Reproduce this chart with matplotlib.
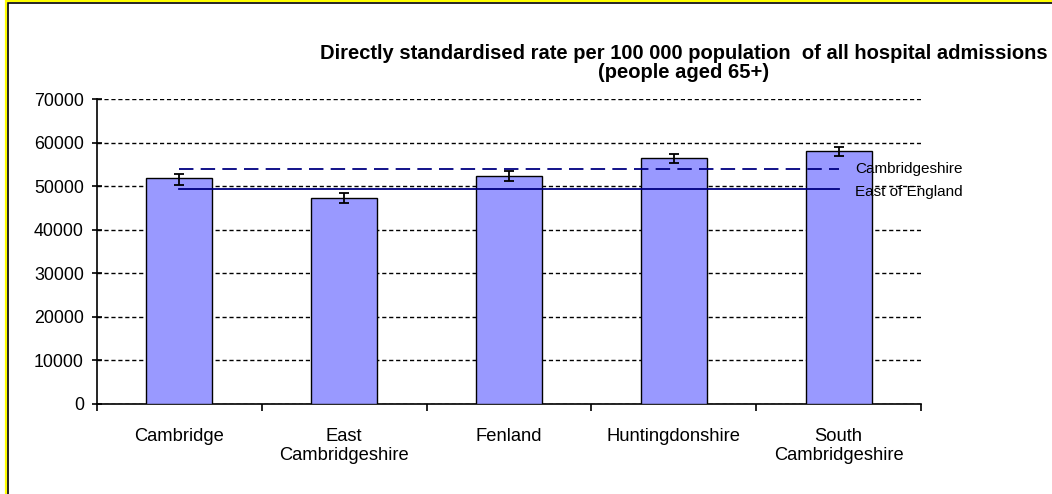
import matplotlib
matplotlib.use("Agg")
import matplotlib.pyplot as plt
from matplotlib.patches import Rectangle
import numpy as np

categories = ["Cambridge", "East\nCambridgeshire", "Fenland", "Huntingdonshire", "South\nCambridgeshire"]
rates = [51950, 47280, 52330, 56530, 58070]
ci_lower = [50300, 46100, 51100, 55240, 56920]
ci_upper = [52680, 48530, 53560, 57310, 58920]
cambs_rate = 53870
eoe_rate = 49280
yticks = [0, 10000, 20000, 30000, 40000, 50000, 60000, 70000]
title = "Directly standardised rate per 100 000 population  of all hospital admissions\n(people aged 65+)"

plt.rcParams['font.family'] = ['Liberation Sans', 'DejaVu Sans']

W, H = 1052, 494
fig = plt.figure(figsize=(W / 100, H / 100), dpi=100)

# outer frame (yellow outline + black border), extends beyond the picture
fig.patches.append(Rectangle((5.5 / W, -0.1), 1.2, 1.1 - 0.8 / H, transform=fig.transFigure,
                             fill=False, edgecolor="#ffff00", linewidth=1.6))
fig.patches.append(Rectangle((7.5 / W, -0.1), 1.2, 1.1 - 3.5 / H, transform=fig.transFigure,
                             fill=False, edgecolor="black", linewidth=1.2))

ax = fig.add_axes([97 / W, 1 - 404 / H, (921 - 97) / W, (404 - 99) / H])

x = np.arange(len(categories))
yerr = [np.array(rates) - np.array(ci_lower), np.array(ci_upper) - np.array(rates)]
ax.bar(x, rates, width=0.4, color="#9999ff", edgecolor="black", linewidth=1.0, zorder=3)
ax.errorbar(x, rates, yerr=yerr, fmt="none", ecolor="black", elinewidth=1.3,
            capsize=3.6, capthick=1.3, zorder=4)

ax.plot([x[0], x[-1]], [cambs_rate, cambs_rate], color="#000080", linewidth=1.3,
        dashes=(8, 4), zorder=5)
ax.plot([x[0], x[-1]], [eoe_rate, eoe_rate], color="#000080", linewidth=1.3, zorder=5)
ax.annotate("Cambridgeshire", xy=(x[-1], cambs_rate), xytext=(12, 0), textcoords="offset points",
            va="center", ha="left", fontsize=11, annotation_clip=False)
ax.annotate("East of England", xy=(x[-1], eoe_rate), xytext=(12, -2), textcoords="offset points",
            va="center", ha="left", fontsize=11, annotation_clip=False)

ax.set_xlim(-0.5, len(categories) - 0.5)
ax.set_ylim(0, 70000)
ax.set_yticks(yticks)
ax.set_yticklabels([str(v) for v in yticks], fontsize=12.8)
ax.yaxis.grid(True, color="black", linestyle=(0, (3, 2)), linewidth=1.0, zorder=0)
ax.set_axisbelow(True)

ax.set_xticks(x)
ax.set_xticklabels(categories, fontsize=13.2, linespacing=1.1, va="top")
ax.tick_params(axis="x", which="major", length=0, pad=17.5)
ax.set_xticks(np.arange(-0.5, len(categories)), minor=True)
ax.tick_params(axis="x", which="minor", length=5, width=1.2, direction="out")
ax.tick_params(axis="y", length=7, width=1.2, direction="inout", pad=6)

for s in ["top", "right"]:
    ax.spines[s].set_visible(False)
ax.spines["left"].set_linewidth(1.2)
ax.spines["bottom"].set_linewidth(1.2)

fig.text(684 / W, 1 - 63 / H, title, ha="center", va="center", fontsize=14.5,
         fontweight="bold", linespacing=0.95)

fig.savefig("out.png", dpi=100)
